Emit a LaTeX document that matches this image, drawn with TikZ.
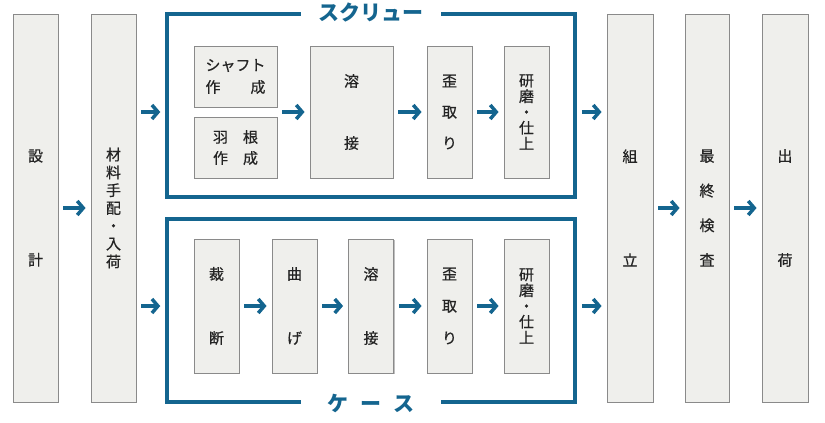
\documentclass[tikz,border=0pt]{standalone}
\usepackage{fontspec}
\setmainfont{Noto Sans CJK JP}[UprightFeatures={FakeBold=0.6}]
\usetikzlibrary{arrows.meta,shadows}
\definecolor{flowblue}{HTML}{14658F}
\definecolor{boxfill}{HTML}{EFEFEC}
\definecolor{boxline}{HTML}{8A8A8A}
\definecolor{inktext}{HTML}{242424}

\begin{document}
\begin{tikzpicture}[
        x=1pt, y=-1pt,
        every node/.style={text=inktext},
        stage/.style={draw=boxline, fill=boxfill, line width=0.9pt, align=center, inner sep=0pt,
            drop shadow={shadow xshift=1.3pt, shadow yshift=-1.3pt}},
        linepitch/.style={font=\fontsize{15}{#1}\selectfont},
        group/.style={draw=flowblue, line width=3.5pt, inner sep=0pt},
        grouptitle/.style={fill=white, text=flowblue, font=\fontsize{21}{21}\selectfont\bfseries,
            minimum width=140pt, minimum height=20pt, inner sep=0pt},
        flow/.style={draw=flowblue, line width=3.5pt, -{Straight Barb[length=6pt,width=14pt]},
            shorten <=5pt, shorten >=5pt}
    ]
    \useasboundingbox (0,0) rectangle (825,423);

    \node (design) [stage, linepitch=104, minimum width=45pt, minimum height=388pt] at (35.5,208) {設\\計};
    \node (material) [stage, linepitch=17.8, minimum width=45pt, minimum height=388pt] at (113.5,208) {材\\料\\手\\配\\・\\入\\荷};

    % screw line
    \node (screw) [group, minimum width=408pt, minimum height=183pt] at (371,105.5) {};
    \node (screwtitle) [grouptitle] at (screw.north) {スクリュー};
    \node (shaft) [stage, linepitch=22, minimum width=83pt, minimum height=61pt] at (235.5,76.5) {シャフト\\作　　成};
    \node (blade) [stage, linepitch=21, minimum width=83pt, minimum height=61pt] at (235.5,147.5) {羽　根\\作　成};
    \node (sweld) [stage, linepitch=62, minimum width=83pt, minimum height=132pt] at (351.5,112) {溶\\接};
    \node (sstraight) [stage, linepitch=31, minimum width=45pt, minimum height=132pt] at (449.5,112) {歪\\取\\り};
    \node (sfinish) [stage, linepitch=15.8, minimum width=45pt, minimum height=132pt] at (526.5,112) {研\\磨\\・\\仕\\上};

    % case line
    \node (case) [group, minimum width=408pt, minimum height=183pt] at (371,310.5) {};
    \node (casetitle) [grouptitle] at (case.south) {ケ\hspace{12pt}ー\hspace{12pt}ス};
    \node (ccut) [stage, linepitch=64, minimum width=45pt, minimum height=134pt] at (216.5,306) {裁\\断};
    \node (cbend) [stage, linepitch=64, minimum width=45pt, minimum height=134pt] at (294.5,306) {曲\\げ};
    \node (cweld) [stage, linepitch=64, minimum width=45pt, minimum height=134pt] at (371,306) {溶\\接};
    \node (cstraight) [stage, linepitch=32, minimum width=45pt, minimum height=134pt] at (449.5,306) {歪\\取\\り};
    \node (cfinish) [stage, linepitch=15.8, minimum width=45pt, minimum height=134pt] at (526.5,306) {研\\磨\\・\\仕\\上};

    \node (assemble) [stage, linepitch=104, minimum width=46pt, minimum height=388pt] at (630,208) {組\\立};
    \node (inspect) [stage, linepitch=34.7, minimum width=44pt, minimum height=388pt] at (707,208) {最\\終\\検\\査};
    \node (ship) [stage, linepitch=104, minimum width=46pt, minimum height=388pt] at (785,208) {出\\荷};

    \draw [flow] (design) -- (material);
    \draw [flow] (material.east |- sweld.west) -- (screw.west |- sweld.west);
    \draw [flow] (material.east |- cweld.west) -- (case.west |- cweld.west);

    \draw [flow] (shaft.east |- sweld.west) -- (sweld.west);
    \draw [flow] (sweld) -- (sstraight);
    \draw [flow] (sstraight) -- (sfinish);
    \draw [flow] (screw.east |- sfinish.east) -- (assemble.west |- sfinish.east);

    \draw [flow] (ccut) -- (cbend);
    \draw [flow] (cbend) -- (cweld);
    \draw [flow] (cweld) -- (cstraight);
    \draw [flow] (cstraight) -- (cfinish);
    \draw [flow] (case.east |- cfinish.east) -- (assemble.west |- cfinish.east);

    \draw [flow] (assemble) -- (inspect);
    \draw [flow] (inspect) -- (ship);
\end{tikzpicture}
\end{document}
